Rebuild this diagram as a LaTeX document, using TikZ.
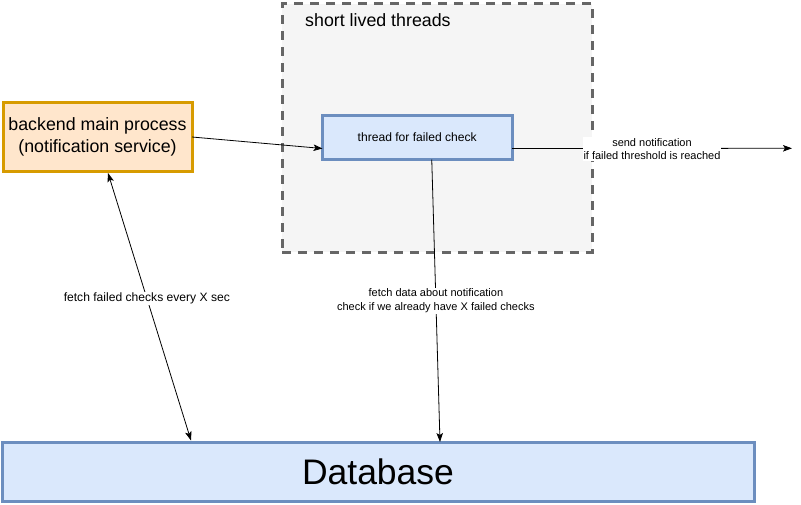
\documentclass[tikz,border=0pt]{standalone}
\usepackage{fontspec}
\setmainfont{Liberation Sans}
\usetikzlibrary{arrows.meta,calc}
\definecolor{orfill}{HTML}{FFE6CC}
\definecolor{ordraw}{HTML}{D79B00}
\definecolor{blfill}{HTML}{DAE8FC}
\definecolor{bldraw}{HTML}{6C8EBF}
\definecolor{grfill}{HTML}{F5F5F5}
\definecolor{grdraw}{HTML}{666666}
\begin{document}
\begin{tikzpicture}[x=1pt,y=-1pt,
  box/.style={draw, line width=3pt, inner sep=0pt, outer sep=0pt, align=center},
  orangebox/.style={box, draw=ordraw, fill=orfill},
  bluebox/.style={box, draw=bldraw, fill=blfill},
  groupbox/.style={draw=grdraw, fill=grfill, line width=3pt, dash pattern=on 9pt off 7pt, inner sep=0pt, outer sep=0pt},
  bigtext/.style={font=\fontsize{17.8}{21.5}\selectfont},
  smalltext/.style={font=\fontsize{11}{13.5}\selectfont},
  edgelabel/.style={smalltext, fill=white, align=center, inner sep=1pt},
  conn/.style={line width=0.8pt, -{Stealth[length=9pt,width=6.5pt,inset=2pt]}},
  dconn/.style={line width=0.8pt, {Stealth[length=9pt,width=6.5pt,inset=2pt]}-{Stealth[length=9pt,width=6.5pt,inset=2pt]}}
]
\useasboundingbox (0,0) rectangle (801,504);
\fill[white] (0,0) rectangle (801,504);

% group container
\node[groupbox, minimum width=310pt, minimum height=248.5pt] (group) at (437,127.75) {};
\node[bigtext, anchor=west, inner sep=0pt] (grouplabel) at (305,20) {short lived threads};

% nodes
\node[orangebox, bigtext, minimum width=189pt, minimum height=69pt] (main) at (97.5,137)
  {backend main process\\(notification service)};
\node[bluebox, font=\fontsize{12.1}{14}\selectfont, minimum width=189.5pt, minimum height=44pt] (thread) at (417.25,137.5)
  {thread for failed check};
\node[bluebox, font=\fontsize{35.5}{40}\selectfont, minimum width=752pt, minimum height=59.5pt] (db) at (378,471.75)
  {Database};

\coordinate (out) at (792,148.3);

% connectors
\draw[conn] (main.east) -- ([yshift=-11pt]thread.west);
\draw[conn] ([yshift=-11pt]thread.east) -- (out);
\node[edgelabel] (sendlabel) at (652,149) {send notification\\if failed threshold is reached};

\draw[conn] ([xshift=14.5pt]thread.south) -- ([xshift=62pt]db.north)
  node[edgelabel, pos=0.5] (fetchlabel) {fetch data about notification\\check if we already have X failed checks};

\draw[dconn] ([xshift=10.5pt,yshift=-1.5pt]main.south) -- ([xshift=-187pt,yshift=1.5pt]db.north)
  node[edgelabel, pos=0.468, font=\fontsize{12.1}{14}\selectfont] (polllabel) {fetch failed checks every X sec};
\end{tikzpicture}
\end{document}
